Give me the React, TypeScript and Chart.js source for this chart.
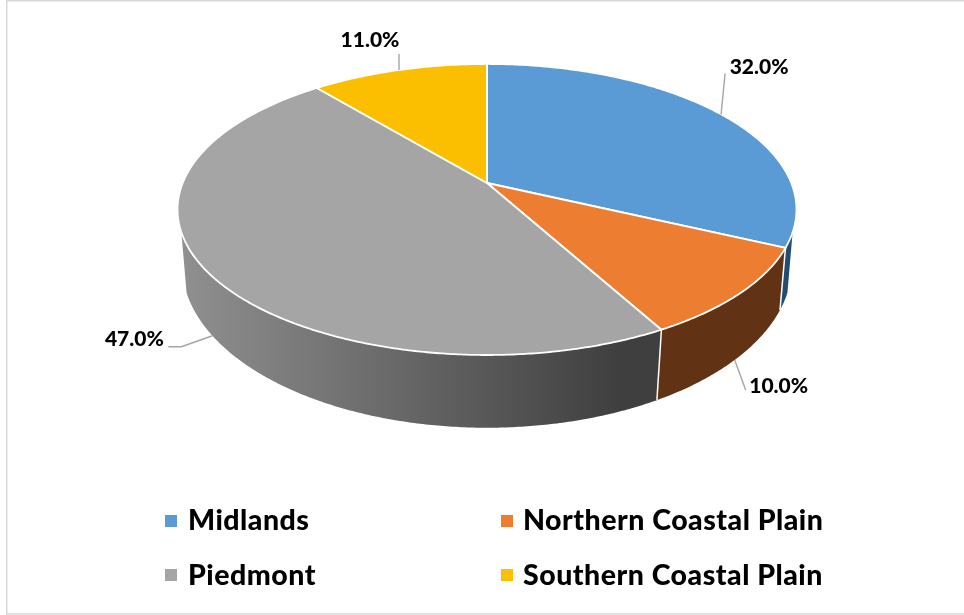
import React, { useEffect, useRef } from "react";
import { Chart, registerables } from "chart.js";

Chart.register(...registerables);

const categories = ["Midlands", "Northern Coastal Plain", "Piedmont", "Southern Coastal Plain"];
const shares = [32, 10, 47, 11];
const topColors = ["#5b9bd5", "#ed7d31", "#a5a5a5", "#fcbf00"];
const wallColors = ["#234c72", "#613214", "gradient", "#8a6a00"];

const FONT = "Lato, Carlito, sans-serif";
const LABEL_FONT = `900 21px ${FONT}`;
const LEGEND_FONT = `900 28.5px ${FONT}`;

// Perspective projection of the disc (unit circle -> screen)
const TOP = { cx: 487, cy: 183, R: 304.3, b: 140.7, k: 0.182 };
const BOTTOM = { cx: 487, cy: 237.6, R: 300.5, b: 158, k: 0.169 };
const V_LIMIT = 0.33;

type Plane = typeof TOP;
const project = (p: Plane, theta: number) => {
  const u = Math.sin(theta);
  const v = -Math.cos(theta);
  const w = 1 - p.k * v;
  return { x: p.cx + (p.R * u) / w, y: p.cy + (p.b * v) / w };
};

const rim = (ctx: CanvasRenderingContext2D, p: Plane, a: number, b: number, first: boolean) => {
  const n = Math.max(2, Math.ceil(Math.abs(b - a) * 120));
  for (let i = 0; i <= n; i++) {
    const q = project(p, a + ((b - a) * i) / n);
    if (first && i === 0) ctx.moveTo(q.x, q.y);
    else ctx.lineTo(q.x, q.y);
  }
};

// leader-line layout for each slice: anchor plane, then the path relative to the rim anchor
const leaderLayout = [
  { plane: TOP, path: [[4, -41]], text: [38, -47] },
  { plane: BOTTOM, path: [[11, 30]], text: [44, 26] },
  { plane: BOTTOM, path: [[-31, 11], [-44, 11]], text: [-78, 4] },
  { plane: TOP, path: [[0, -16]], text: [-29, -30] },
];

const legendLayout = [
  { box: [165, 515], text: [188, 530] },
  { box: [501, 515], text: [523, 530] },
  { box: [165, 569], text: [188, 585] },
  { box: [501, 569], text: [523, 585] },
];

const pie3d = {
  id: "pie3d",
  beforeDatasetDraw(chart: any, args: any) {
    const ctx: CanvasRenderingContext2D = chart.ctx;
    const arcs = args.meta.data;
    const angle = (x: number) => x + Math.PI / 2;
    const tMin = Math.acos(-V_LIMIT);
    const tMax = 2 * Math.PI - tMin;
    const gray = ctx.createLinearGradient(186, 0, 620, 0);
    gray.addColorStop(0, "#8f8f8f");
    gray.addColorStop(1, "#3f3f3f");

    ctx.save();
    ctx.lineJoin = "round";

    // side walls
    arcs.forEach((arc: any, i: number) => {
      const a = Math.max(angle(arc.startAngle), tMin);
      const b = Math.min(angle(arc.endAngle), tMax);
      if (b <= a) return;
      ctx.beginPath();
      rim(ctx, TOP, a, b, true);
      rim(ctx, BOTTOM, b, a, false);
      ctx.closePath();
      ctx.fillStyle = wallColors[i] === "gradient" ? gray : wallColors[i];
      ctx.fill();
    });

    // white seams between walls
    ctx.strokeStyle = "#ffffff";
    ctx.lineWidth = 1.5;
    arcs.forEach((arc: any) => {
      const t = angle(arc.startAngle);
      if (t <= tMin || t >= tMax) return;
      const p = project(TOP, t);
      const q = project(BOTTOM, t);
      ctx.beginPath();
      ctx.moveTo(p.x, p.y);
      ctx.lineTo(q.x, q.y);
      ctx.stroke();
    });

    // top faces
    ctx.lineWidth = 1.8;
    arcs.forEach((arc: any, i: number) => {
      ctx.beginPath();
      ctx.moveTo(TOP.cx, TOP.cy);
      rim(ctx, TOP, angle(arc.startAngle), angle(arc.endAngle), false);
      ctx.closePath();
      ctx.fillStyle = topColors[i];
      ctx.fill();
      ctx.stroke();
    });

    // leader lines and data labels
    arcs.forEach((arc: any, i: number) => {
      const layout = leaderLayout[i];
      const mid = angle((arc.startAngle + arc.endAngle) / 2);
      const anchor = project(layout.plane, mid);
      ctx.beginPath();
      ctx.moveTo(anchor.x, anchor.y);
      layout.path.forEach(([dx, dy]) => ctx.lineTo(anchor.x + dx, anchor.y + dy));
      ctx.strokeStyle = "#a6a6a6";
      ctx.lineWidth = 1.4;
      ctx.stroke();
      ctx.fillStyle = "#000000";
      ctx.font = LABEL_FONT;
      ctx.textAlign = "center";
      ctx.textBaseline = "middle";
      const value = chart.data.datasets[0].data[i];
      ctx.fillText(`${value.toFixed(1)}%`, anchor.x + layout.text[0], anchor.y + layout.text[1]);
    });

    ctx.restore();
    return false;
  },
  afterDraw(chart: any) {
    const ctx: CanvasRenderingContext2D = chart.ctx;
    ctx.save();
    ctx.font = LEGEND_FONT;
    (ctx as any).letterSpacing = "0.5px";
    ctx.textAlign = "left";
    ctx.textBaseline = "alphabetic";
    chart.data.labels.forEach((label: string, i: number) => {
      const l = legendLayout[i];
      ctx.fillStyle = topColors[i];
      ctx.fillRect(l.box[0], l.box[1], 12, 12);
      ctx.fillStyle = "#000000";
      ctx.fillText(label, l.text[0], l.text[1]);
    });
    // frame
    ctx.strokeStyle = "#d9d9d9";
    ctx.lineWidth = 1.5;
    ctx.beginPath();
    ctx.moveTo(6.75, 615);
    ctx.lineTo(6.75, 0.75);
    ctx.lineTo(964, 0.75);
    ctx.moveTo(6.75, 614);
    ctx.lineTo(964, 614);
    ctx.stroke();
    ctx.restore();
  },
};

export default function App() {
  const ref = useRef<HTMLCanvasElement>(null);
  useEffect(() => {
    const chart = new Chart(ref.current as HTMLCanvasElement, {
      type: "pie",
      data: {
        labels: categories,
        datasets: [{ data: shares, backgroundColor: topColors, borderColor: "#ffffff" }],
      },
      options: {
        responsive: false,
        animation: false,
        devicePixelRatio: 1,
        plugins: { legend: { display: false }, tooltip: { enabled: false } },
      },
      plugins: [pie3d],
    } as any);
    return () => chart.destroy();
  }, []);
  return (
    <canvas
      ref={ref}
      width={964}
      height={615}
      style={{ position: "absolute", left: 0, top: 0, width: 964, height: 615, background: "#ffffff" }}
    />
  );
}
